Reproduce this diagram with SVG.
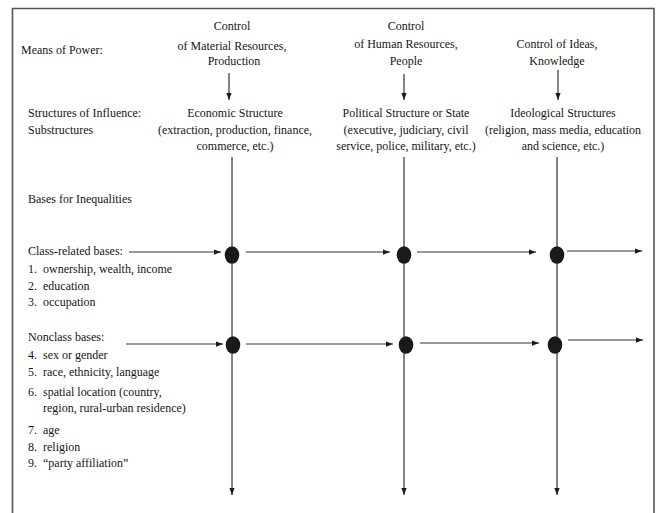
<svg xmlns="http://www.w3.org/2000/svg" width="658" height="513" viewBox="0 0 658 513">
<style>
text{font-family:"Liberation Serif","Times New Roman",serif;font-size:13px;fill:#151515}
.c{text-anchor:middle}
.ln{stroke:#333;stroke-width:1.2;fill:none}
.dot{fill:#1a1a1a}
</style>
<defs>
<marker id="ah" viewBox="0 0 8 6" refX="8" refY="3" markerWidth="7" markerHeight="6" markerUnits="userSpaceOnUse" orient="auto">
<path d="M0,0 L8,3 L0,6 Z" fill="#1a1a1a"/>
</marker>
</defs>
<rect width="658" height="513" fill="#fff"/>
<path d="M12.5,513 V8.5 H654 V513" fill="none" stroke="#555" stroke-width="1.6"/>

<g transform="matrix(0.923 0 0 1 0 0)">
<g id="labels-left">
<text x="22.75" y="54">Means of Power:</text>
<text x="30.34" y="117">Structures of Influence:</text>
<text x="30.34" y="134">Substructures</text>
<text x="30.34" y="203">Bases for Inequalities</text>
</g>

<g id="means-material">
<text class="c" x="251.35" y="30">Control</text>
<text class="c" x="251.35" y="50">of Material Resources,</text>
<text class="c" x="253.52" y="65">Production</text>
</g>
<g id="means-human">
<text class="c" x="439.87" y="30">Control</text>
<text class="c" x="439.87" y="48">of Human Resources,</text>
<text class="c" x="439.87" y="65">People</text>
</g>
<g id="means-ideas">
<text class="c" x="603.47" y="48">Control of Ideas,</text>
<text class="c" x="603.47" y="65">Knowledge</text>
</g>

<g id="struct-economic">
<text class="c" x="254.6" y="117">Economic Structure</text>
<text class="c" x="254.6" y="134">(extraction, production, finance,</text>
<text class="c" x="254.6" y="150">commerce, etc.)</text>
</g>
<g id="struct-political">
<text class="c" x="439.87" y="117">Political Structure or State</text>
<text class="c" x="439.87" y="134">(executive, judiciary, civil</text>
<text class="c" x="439.87" y="150">service, police, military, etc.)</text>
</g>
<g id="struct-ideological">
<text class="c" x="609.97" y="117">Ideological Structures</text>
<text class="c" x="609.97" y="134">(religion, mass media, education</text>
<text class="c" x="609.97" y="150">and science, etc.)</text>
</g>

<g id="class-bases">
<text x="30.34" y="255">Class-related bases:</text>
<text x="30.34" y="273">1.</text><text x="46.59" y="273">ownership, wealth, income</text>
<text x="30.34" y="290">2.</text><text x="46.59" y="290">education</text>
<text x="30.34" y="306">3.</text><text x="46.59" y="306">occupation</text>
</g>
<g id="nonclass-bases">
<text x="30.34" y="341">Nonclass bases:</text>
<text x="30.34" y="359">4.</text><text x="46.59" y="359">sex or gender</text>
<text x="30.34" y="376">5.</text><text x="46.59" y="376">race, ethnicity, language</text>
<text x="30.34" y="396">6.</text><text x="46.59" y="396">spatial location (country,</text>
<text x="46.59" y="412">region, rural-urban residence)</text>
<text x="30.34" y="434">7.</text><text x="46.59" y="434">age</text>
<text x="30.34" y="451">8.</text><text x="46.59" y="451">religion</text>
<text x="30.34" y="467">9.</text><text x="46.59" y="467">“party affiliation”</text>
</g>
</g>

<g id="connectors">
<line class="ln" x1="229" y1="73" x2="229" y2="100" marker-end="url(#ah)"/>
<line class="ln" x1="404" y1="74" x2="404" y2="100" marker-end="url(#ah)"/>
<line class="ln" x1="558" y1="70" x2="558" y2="100" marker-end="url(#ah)"/>

<line class="ln" x1="232" y1="157" x2="232" y2="495" marker-end="url(#ah)"/>
<line class="ln" x1="404" y1="157" x2="404" y2="495" marker-end="url(#ah)"/>
<line class="ln" x1="557" y1="157" x2="557" y2="495" marker-end="url(#ah)"/>

<line class="ln" x1="129" y1="252" x2="221" y2="252" marker-end="url(#ah)"/>
<line class="ln" x1="246" y1="252" x2="390" y2="252" marker-end="url(#ah)"/>
<line class="ln" x1="417" y1="252" x2="536" y2="252" marker-end="url(#ah)"/>
<line class="ln" x1="567" y1="251" x2="642" y2="251" marker-end="url(#ah)"/>

<line class="ln" x1="126" y1="344" x2="223" y2="344" marker-end="url(#ah)"/>
<line class="ln" x1="246" y1="344" x2="393" y2="344" marker-end="url(#ah)"/>
<line class="ln" x1="420" y1="343" x2="539" y2="343" marker-end="url(#ah)"/>
<line class="ln" x1="568" y1="340" x2="643" y2="340" marker-end="url(#ah)"/>
</g>

<g id="dots">
<ellipse class="dot" cx="232" cy="255" rx="7.3" ry="8.7"/>
<ellipse class="dot" cx="404" cy="255" rx="7.3" ry="8.7"/>
<ellipse class="dot" cx="557" cy="255" rx="7.3" ry="8.7"/>
<ellipse class="dot" cx="233" cy="345" rx="7.3" ry="8.7"/>
<ellipse class="dot" cx="406" cy="345" rx="7.3" ry="8.7"/>
<ellipse class="dot" cx="555" cy="345" rx="7.3" ry="8.7"/>
</g>
</svg>
